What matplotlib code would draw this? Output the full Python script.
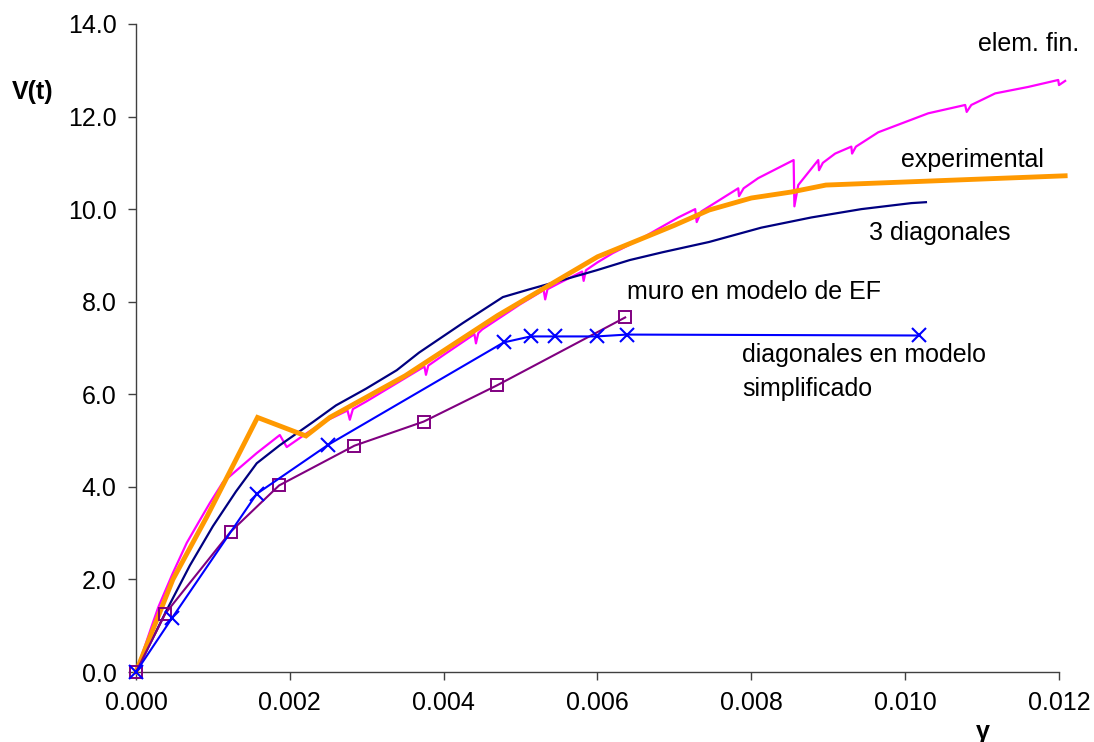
import matplotlib
matplotlib.use("Agg")
import matplotlib.pyplot as plt
import numpy as np

plt.rcParams['font.family'] = ['Liberation Sans', 'DejaVu Sans']

# gamma values given in thousandths (x1e-3)
exp_x = [0, 0.48, 0.92, 1.58, 2.21, 2.52, 3.5, 4.7, 6.0, 7.0, 7.45, 8.0, 8.52, 8.97, 12.08]
exp_y = [0, 2.0, 3.35, 5.50, 5.10, 5.50, 6.40, 7.70, 8.97, 9.65, 9.98, 10.24, 10.37, 10.52, 10.72]

ef_x = [0, 0.1, 0.2, 0.29, 0.48, 0.66, 0.83, 0.96, 1.13, 1.31, 1.57, 1.87, 1.96, 2.09, 2.22,
        2.5, 2.75, 2.78, 2.82, 3.0, 3.5, 3.75, 3.77, 3.8, 4.0, 4.4, 4.42, 4.45, 4.5, 5.0, 5.3, 5.32,
        5.35, 5.5, 5.8, 5.82, 5.85, 6.0, 6.2, 6.5, 7.05, 7.27, 7.29, 7.35, 7.83, 7.84, 7.9, 8.09,
        8.55, 8.56, 8.61, 8.87, 8.88, 8.93, 9.09, 9.30, 9.31, 9.36, 9.65, 10.3, 10.78, 10.80,
        10.86, 11.17, 11.6, 11.99, 12.0, 12.08]
ef_y = [0, 0.48, 0.97, 1.40, 2.14, 2.79, 3.28, 3.65, 4.1, 4.36, 4.73, 5.12, 4.86, 5.01, 5.16,
        5.45, 5.65, 5.45, 5.68, 5.85, 6.35, 6.6, 6.42, 6.62, 6.85, 7.3, 7.1, 7.32, 7.4, 7.95, 8.25,
        8.05, 8.27, 8.4, 8.65, 8.45, 8.68, 8.85, 9.05, 9.3, 9.82, 10.0, 9.72, 9.95, 10.45, 10.28,
        10.45, 10.67, 11.06, 10.06, 10.52, 11.06, 10.84, 11.0, 11.2, 11.35, 11.2, 11.35, 11.66,
        12.07, 12.25, 12.1, 12.25, 12.5, 12.64, 12.79, 12.68, 12.77]

d3_x = [0, 0.4, 0.7, 1.0, 1.3, 1.57, 1.87, 2.3, 2.6, 2.99, 3.39, 3.68, 4.25, 4.77, 5.12, 5.55,
        5.99, 6.42, 6.85, 7.45, 8.13, 8.78, 9.43, 10.08, 10.27]
d3_y = [0, 1.34, 2.3, 3.15, 3.9, 4.51, 4.9, 5.4, 5.76, 6.12, 6.52, 6.9, 7.54, 8.1, 8.27, 8.47,
        8.68, 8.9, 9.07, 9.29, 9.6, 9.82, 10.0, 10.13, 10.15]

simp_x = [0, 0.47, 1.57, 2.5, 4.78, 5.13, 5.45, 5.99, 6.38, 10.18]
simp_y = [0, 1.17, 3.85, 4.91, 7.12, 7.25, 7.25, 7.25, 7.29, 7.27]

muro_x = [0, 0.38, 1.23, 1.86, 2.84, 3.74, 4.69, 6.36]
muro_y = [0, 1.26, 3.03, 4.03, 4.89, 5.41, 6.19, 7.66]

x_ticks = [0.000, 0.002, 0.004, 0.006, 0.008, 0.010, 0.012]
y_ticks = [0.0, 2.0, 4.0, 6.0, 8.0, 10.0, 12.0, 14.0]

def g(v):
    return np.array(v) * 1e-3

fig = plt.figure(figsize=(10.94, 7.42), dpi=100)
ax = fig.add_axes([0.1243, 0.0943, 0.8437, 0.8734])

ax.plot(g(ef_x), ef_y, color='#FF00FF', lw=1.6, zorder=2)
ax.plot(g(d3_x), d3_y, color='#000080', lw=1.6, zorder=3)
ax.plot(g(exp_x), exp_y, color='#FF9900', lw=3.5, zorder=4, solid_joinstyle='miter')
ax.plot(g(muro_x), muro_y, color='#800080', lw=1.5, marker='s', markersize=8,
        markerfacecolor='none', markeredgewidth=1.4, zorder=5)
ax.plot(g(simp_x), simp_y, color='#0000FF', lw=1.5, marker='x', markersize=10,
        markeredgewidth=1.5, zorder=6)

ax.set_xlim(0, 0.012)
ax.set_ylim(0, 14)
ax.set_xticks(x_ticks)
ax.set_yticks(y_ticks)
ax.set_xticklabels([f"{v:.3f}" for v in x_ticks])
ax.set_yticklabels([f"{v:.1f}" for v in y_ticks])
ax.tick_params(axis='both', direction='out', length=6, width=1, colors='#404040',
               labelcolor='black', labelsize=18, pad=8)
for s in ['top', 'right']:
    ax.spines[s].set_visible(False)
for s in ['left', 'bottom']:
    ax.spines[s].set_color('#404040')
    ax.spines[s].set_linewidth(1)
for ln in ax.lines:
    ln.set_clip_on(False)

fs = 18
ax.text(0.01095, 13.56, "elem. fin.", fontsize=fs, ha='left', va='center')
ax.text(0.00995, 11.06, "experimental", fontsize=fs, ha='left', va='center')
ax.text(0.00953, 9.48, "3 diagonales", fontsize=fs, ha='left', va='center')
ax.text(0.00638, 8.21, "muro en modelo de EF", fontsize=fs, ha='left', va='center')
ax.text(0.00788, 6.85, "diagonales en modelo", fontsize=fs, ha='left', va='center')
ax.text(0.00788, 6.11, "simplificado", fontsize=fs, ha='left', va='center')

fig.text(33 / 1094, 1 - 92 / 742, "V(t)", fontsize=18, fontweight='bold', ha='center', va='center')
fig.text(983 / 1094, 1 - 732 / 742, "γ", fontsize=18, fontweight='bold', ha='center', va='center')

fig.savefig("out.png", dpi=100)
